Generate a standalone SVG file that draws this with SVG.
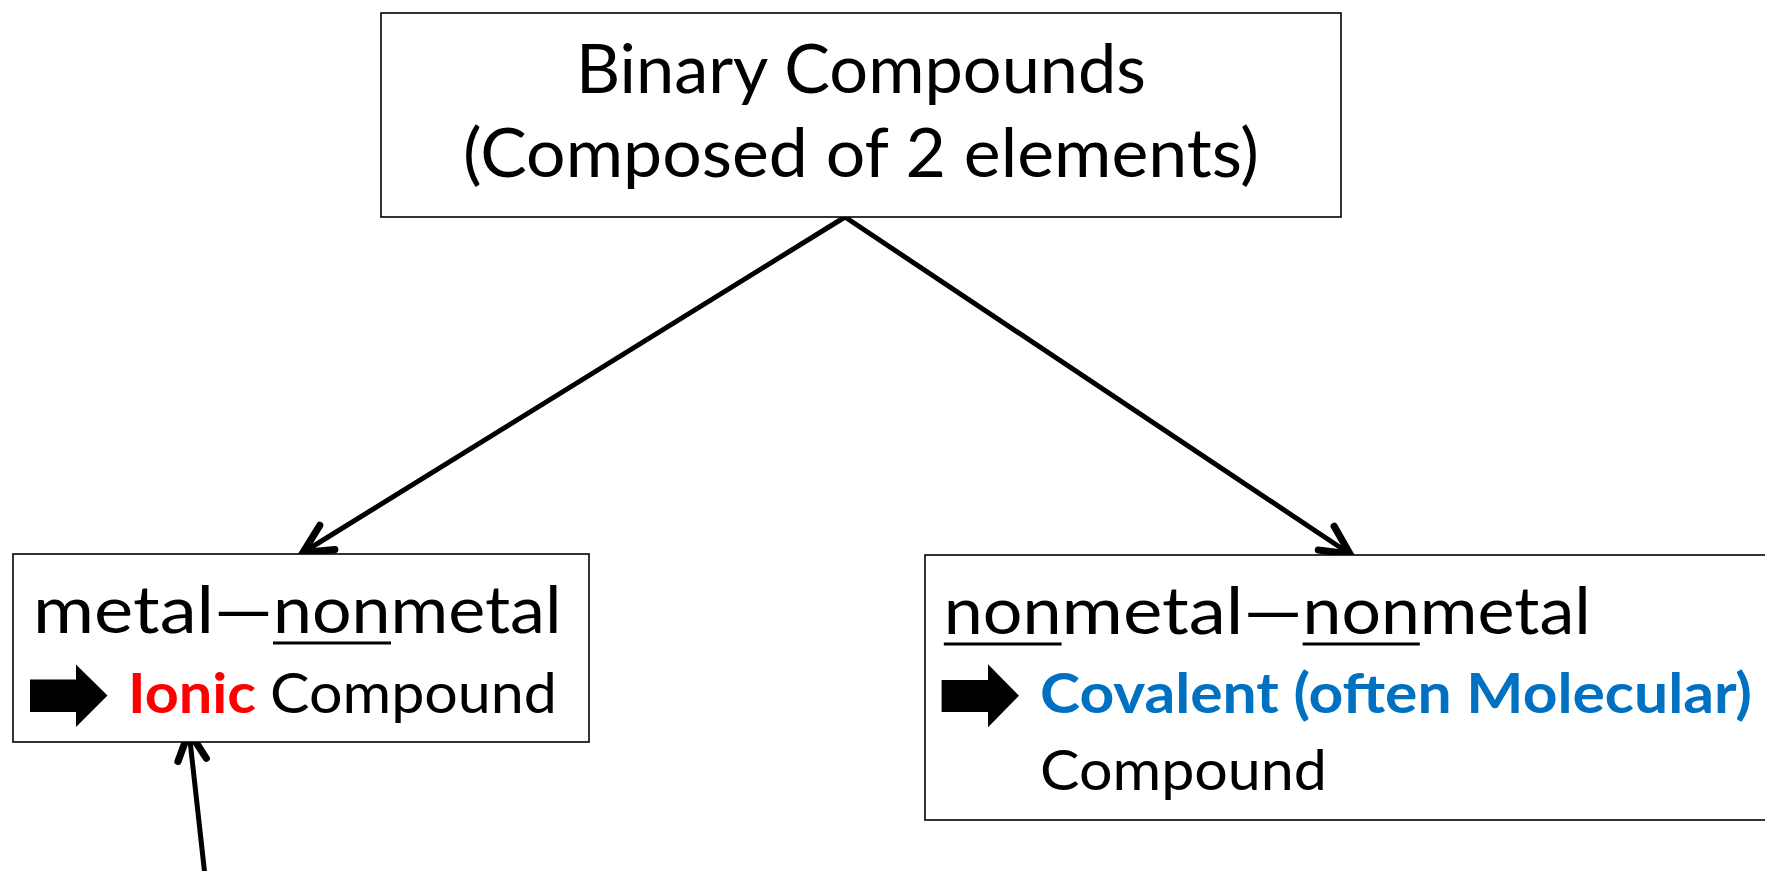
<svg xmlns="http://www.w3.org/2000/svg" width="1765" height="871" viewBox="0 0 1765 871">
  <style>
    .box { fill: #ffffff; stroke: #000000; stroke-width: 1.6; }
    .t { font-family: Lato, "Open Sans", "Liberation Sans", sans-serif; fill: #000000; }
    .big { font-size: 67px; }
    .l1 { font-size: 65px; }
    .l2 { font-size: 56px; }
    .b { font-weight: bold; }
    .red { fill: #FF0000; }
    .blue { fill: #0070C0; }
    .ul { fill: #000000; }
    .blk { fill: #000000; }
  </style>
  <defs>
    <marker id="open" markerUnits="userSpaceOnUse" markerWidth="40" markerHeight="40" viewBox="-24 -14 28 28" refX="0" refY="0" orient="auto" overflow="visible">
      <path d="M -20,-10 L 0,0 L -20,10" fill="none" stroke="#000000" stroke-width="5" stroke-linecap="round" stroke-linejoin="miter"/>
    </marker>
  </defs>

  <g id="connectors" stroke="#000000" stroke-width="5" fill="none" stroke-linecap="round">
    <line x1="845" y1="217" x2="303" y2="552.5" marker-end="url(#open)"/>
    <line x1="845" y1="217" x2="1350" y2="554" marker-end="url(#open)"/>
    <line x1="206" y1="885" x2="189" y2="731.5" marker-end="url(#open)"/>
  </g>

  <g id="node-binary">
    <rect class="box" x="381" y="13" width="960" height="204"/>
    <text class="t big" x="861" y="92.5" text-anchor="middle" textLength="570" lengthAdjust="spacingAndGlyphs">Binary Compounds</text>
    <text class="t big" x="861" y="176.5" text-anchor="middle" textLength="796" lengthAdjust="spacingAndGlyphs">(Composed of 2 elements)</text>
  </g>

  <g id="node-ionic">
    <rect class="box" x="13" y="554" width="576" height="188"/>
    <text class="t l1" x="33" y="633" textLength="240" lengthAdjust="spacingAndGlyphs">metal—</text>
    <text class="t l1" x="273" y="633" textLength="117.5" lengthAdjust="spacingAndGlyphs">non</text>
    <text class="t l1" x="390.5" y="633" textLength="171" lengthAdjust="spacingAndGlyphs">metal</text>
    <rect class="ul" x="273" y="641.5" width="118" height="3"/>
    <polygon class="blk" points="30,679.5 76,679.5 76,664.5 107.5,695.5 76,727 76,712 30,712"/>
    <text class="t l2 b red" x="128" y="712.5" textLength="128" lengthAdjust="spacingAndGlyphs">Ionic</text>
    <text class="t l2" x="270" y="712.5" textLength="287" lengthAdjust="spacingAndGlyphs">Compound</text>
  </g>

  <g id="node-covalent">
    <rect class="box" x="925" y="555" width="860" height="265"/>
    <text class="t l1" x="943.8" y="634.3" textLength="117.8" lengthAdjust="spacingAndGlyphs">non</text>
    <text class="t l1" x="1061.6" y="634.3" textLength="241" lengthAdjust="spacingAndGlyphs">metal—</text>
    <text class="t l1" x="1302.6" y="634.3" textLength="117.2" lengthAdjust="spacingAndGlyphs">non</text>
    <text class="t l1" x="1419.8" y="634.3" textLength="171" lengthAdjust="spacingAndGlyphs">metal</text>
    <rect class="ul" x="943.8" y="642.5" width="117.8" height="3"/>
    <rect class="ul" x="1302.6" y="642.5" width="117.2" height="3"/>
    <polygon class="blk" points="941.6,680 988,680 988,664.3 1019,695.8 988,727.3 988,712 941.6,712"/>
    <text class="t l2 b blue" x="1040" y="713.3" textLength="712" lengthAdjust="spacingAndGlyphs">Covalent (often Molecular)</text>
    <text class="t l2" x="1040" y="790" textLength="287" lengthAdjust="spacingAndGlyphs">Compound</text>
  </g>
</svg>
